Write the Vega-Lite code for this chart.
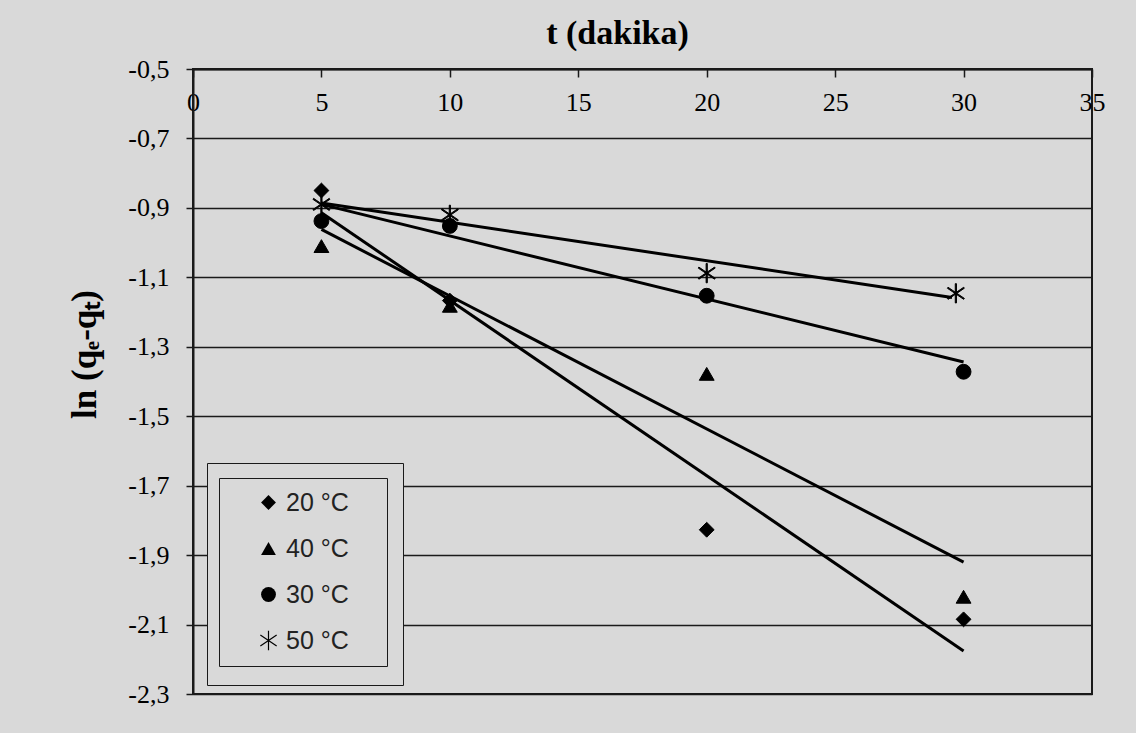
{
  "$schema": "https://vega.github.io/schema/vega-lite/v6.json",
  "width": 899,
  "height": 625,
  "autosize": {"type": "none"},
  "padding": {"left": 193, "top": 69, "right": 44, "bottom": 39},
  "background": "#d9d9d9",
  "config": {
    "view": {"stroke": "#1a1a1a", "strokeWidth": 2, "fill": "#d9d9d9"}
  },
  "datasets": {
    "pts": [
      {"t": 5, "ln": -0.85, "series": "20 °C"},
      {"t": 10, "ln": -1.167, "series": "20 °C"},
      {"t": 20, "ln": -1.827, "series": "20 °C"},
      {"t": 30, "ln": -2.085, "series": "20 °C"},
      {"t": 5, "ln": -1.01, "series": "40 °C"},
      {"t": 10, "ln": -1.182, "series": "40 °C"},
      {"t": 20, "ln": -1.378, "series": "40 °C"},
      {"t": 30, "ln": -2.02, "series": "40 °C"},
      {"t": 5, "ln": -0.938, "series": "30 °C"},
      {"t": 10, "ln": -0.952, "series": "30 °C"},
      {"t": 20, "ln": -1.153, "series": "30 °C"},
      {"t": 30, "ln": -1.372, "series": "30 °C"},
      {"t": 5, "ln": -0.89, "series": "50 °C"},
      {"t": 10, "ln": -0.92, "series": "50 °C"},
      {"t": 20, "ln": -1.088, "series": "50 °C"},
      {"t": 29.7, "ln": -1.146, "series": "50 °C"}
    ],
    "fit": [
      {"t": 5, "ln": -0.914, "series": "20 °C"},
      {"t": 30, "ln": -2.176, "series": "20 °C"},
      {"t": 5, "ln": -0.962, "series": "40 °C"},
      {"t": 30, "ln": -1.92, "series": "40 °C"},
      {"t": 5, "ln": -0.89, "series": "30 °C"},
      {"t": 30, "ln": -1.344, "series": "30 °C"},
      {"t": 5, "ln": -0.886, "series": "50 °C"},
      {"t": 29.55, "ln": -1.158, "series": "50 °C"}
    ]
  },
  "encoding": {
    "x": {
      "field": "t",
      "type": "quantitative",
      "scale": {"domain": [0, 35], "nice": false, "zero": false},
      "axis": {
        "orient": "bottom",
        "offset": -625,
        "values": [0, 5, 10, 15, 20, 25, 30, 35],
        "grid": false,
        "tickSize": 8,
        "tickColor": "#1a1a1a",
        "tickWidth": 1.5,
        "domainColor": "#1a1a1a",
        "domainWidth": 2,
        "labelFont": "Liberation Serif, Times New Roman, serif",
        "labelFontSize": 26,
        "labelColor": "black",
        "labelPadding": 12,
        "labelFlush": false,
        "labelOverlap": false,
        "labelBound": false,
        "title": "t (dakika)",
        "titleFont": "Liberation Serif, Times New Roman, serif",
        "titleFontSize": 34,
        "titleFontWeight": "bold",
        "titleColor": "black",
        "titleX": 424,
        "titleY": -26,
        "titleAlign": "center",
        "titleBaseline": "alphabetic"
      }
    },
    "y": {
      "field": "ln",
      "type": "quantitative",
      "scale": {"domain": [-2.3, -0.5], "nice": false, "zero": false},
      "axis": {
        "values": [-0.5, -0.7, -0.9, -1.1, -1.3, -1.5, -1.7, -1.9, -2.1, -2.3],
        "labelExpr": "replace(toString(datum.value), '.', ',')",
        "grid": true,
        "gridColor": "#1a1a1a",
        "gridWidth": 1.5,
        "tickSize": 7,
        "tickColor": "#1a1a1a",
        "tickWidth": 1.5,
        "domainColor": "#1a1a1a",
        "domainWidth": 2,
        "labelFont": "Liberation Serif, Times New Roman, serif",
        "labelFontSize": 26,
        "labelColor": "black",
        "labelPadding": 17,
        "labelOverlap": false,
        "labelBound": false,
        "title": "ln (qₑ-qₜ)",
        "titleFont": "Liberation Serif, Times New Roman, serif",
        "titleFontSize": 35,
        "titleFontWeight": "bold",
        "titleColor": "black",
        "titleAngle": -90,
        "titleX": -98,
        "titleY": 285,
        "titleAlign": "center",
        "titleBaseline": "alphabetic"
      }
    }
  },
  "layer": [
    {
      "data": {"name": "fit"},
      "mark": {"type": "line", "strokeWidth": 3},
      "encoding": {
        "color": {
          "field": "series",
          "type": "nominal",
          "scale": {"range": ["black", "black", "black", "black"]},
          "legend": {
            "orient": "none",
            "legendX": 14,
            "legendY": 394,
            "title": null,
            "padding": 27,
            "symbolOffset": 115,
            "symbolType": "circle",
            "symbolSize": 625,
            "symbolOpacity": 0,
            "labelOpacity": 0,
            "labelExpr": "''",
            "labelFontSize": 25,
            "labelOffset": 0,
            "rowPadding": 20,
            "strokeColor": "#1a1a1a",
            "fillColor": "#d9d9d9",
            "zindex": 1,
            "encode": {"legend": {"strokeWidth": {"value": 2}}}
          }
        }
      }
    },
    {
      "data": {"name": "pts"},
      "mark": {"type": "point", "filled": true, "size": 220, "color": "black", "fill": "black", "stroke": "black", "strokeWidth": 1, "opacity": 1},
      "encoding": {
        "shape": {
          "field": "series",
          "type": "nominal",
          "scale": {
            "domain": ["20 °C", "40 °C", "30 °C", "50 °C"],
            "range": ["diamond", "triangle-up", "circle", "M-0.08,-1.3L0.08,-1.3L0.08,1.3L-0.08,1.3ZM-1.055,-0.816L1.145,0.684L1.055,0.816L-1.145,-0.684ZM-1.145,0.684L1.055,-0.816L1.145,-0.684L-1.055,0.816Z"]
          },
          "legend": {
            "orient": "none",
            "legendX": 26,
            "legendY": 409,
            "title": ".",
            "titleOrient": "right",
            "titleOpacity": 0,
            "titleFontSize": 25,
            "titlePadding": 19,
            "padding": 12,
            "symbolOffset": 25,
            "symbolSize": 220,
            "symbolStrokeWidth": 1,
            "symbolStrokeColor": "black",
            "symbolFillColor": "black",
            "labelFont": "Liberation Sans, Arial, sans-serif",
            "labelFontSize": 25,
            "labelColor": "#222222",
            "labelOffset": 5,
            "rowPadding": 20,
            "strokeColor": "#1a1a1a",
            "fillColor": "#d9d9d9",
            "zindex": 2,
            "encode": {
              "legend": {"strokeWidth": {"value": 2}},
              "symbols": {"stroke": {"value": "black"}, "strokeWidth": {"value": 1}, "fill": {"value": "black"}}
            }
          }
        }
      }
    }
  ]
}
